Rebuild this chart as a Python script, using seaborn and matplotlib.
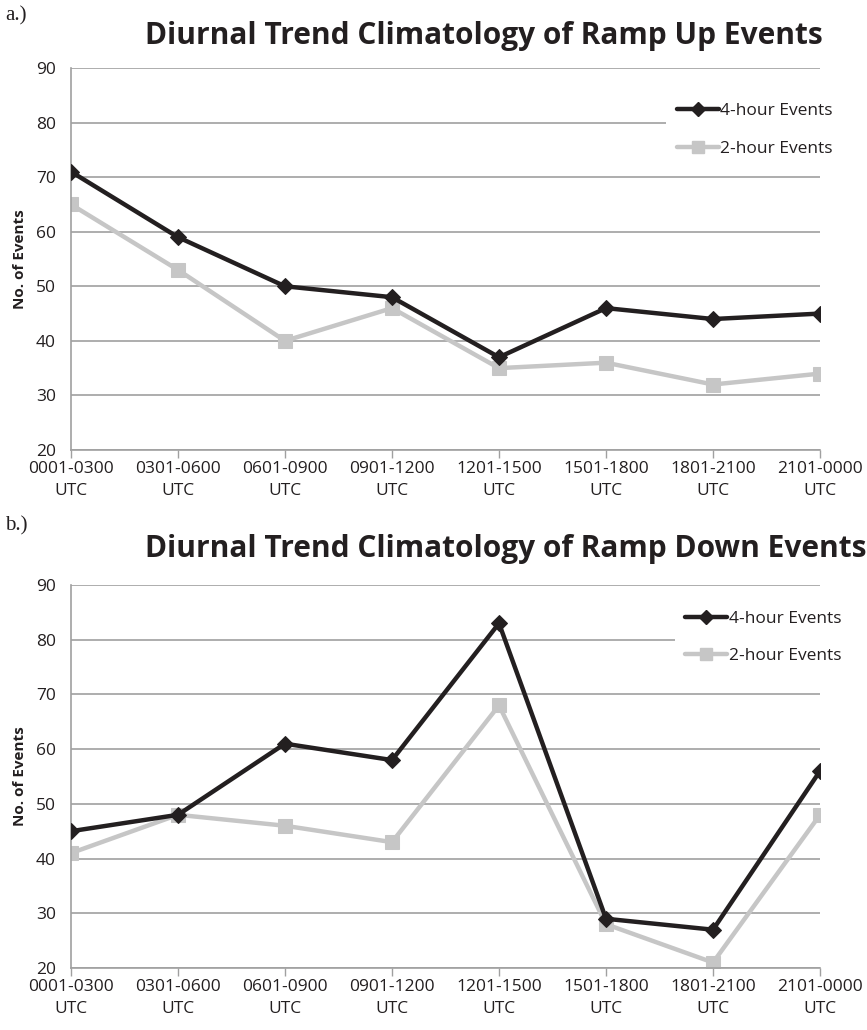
import matplotlib
matplotlib.use("Agg")
import matplotlib.pyplot as plt
import seaborn as sns
import pandas as pd
from matplotlib.lines import Line2D

sns.set_theme(style="white")
plt.rcParams['font.family'] = ['Open Sans', 'DejaVu Sans']

periods = ["0001-0300\nUTC", "0301-0600\nUTC", "0601-0900\nUTC", "0901-1200\nUTC",
           "1201-1500\nUTC", "1501-1800\nUTC", "1801-2100\nUTC", "2101-0000\nUTC"]

up_4hr = [71, 59, 50, 48, 37, 46, 44, 45]
up_2hr = [65, 53, 40, 46, 35, 36, 32, 34]
down_4hr = [45, 48, 61, 58, 83, 29, 27, 56]
down_2hr = [41, 48, 46, 43, 68, 28, 21, 48]

series_names = ["4-hour Events", "2-hour Events"]
colors = {"4-hour Events": "#231f20", "2-hour Events": "#c6c6c6"}
markers = {"4-hour Events": "D", "2-hour Events": "s"}
msizes = {"4-hour Events": 8, "2-hour Events": 10}
leg_msizes = {"4-hour Events": 7, "2-hour Events": 9}

fig = plt.figure(figsize=(8.67, 10.30), dpi=100)

panels = [
    dict(rect=[71/867, 1-450/1030, (820-71)/867, (450-68)/1030],
         vals=[up_4hr, up_2hr], title="Diurnal Trend Climatology of Ramp Up Events",
         tag="a.)", tag_y=1-16/1030, title_y=1-36/1030, leg=(0.795, 0.935)),
    dict(rect=[71/867, 1-968/1030, (820-71)/867, (968-585)/1030],
         vals=[down_4hr, down_2hr], title="Diurnal Trend Climatology of Ramp Down Events",
         tag="b.)", tag_y=1-526/1030, title_y=1-549/1030, leg=(0.806, 0.96)),
]

for p in panels:
    ax = fig.add_axes(p["rect"])
    frames = []
    for name, v in zip(series_names, p["vals"]):
        frames.append(pd.DataFrame({"pos": range(len(periods)), "count": v, "series": name}))
    df = pd.concat(frames, ignore_index=True)
    # draw 2-hour first so the 4-hour line sits on top
    for name in ["2-hour Events", "4-hour Events"]:
        sub = df[df["series"] == name]
        sns.lineplot(data=sub, x="pos", y="count", ax=ax, color=colors[name],
                     marker=markers[name], markersize=msizes[name],
                     markeredgecolor=colors[name], linewidth=3.2, legend=False,
                     zorder=3 if name.startswith("4") else 2)
    ax.set_xlim(0, 7)
    ax.set_ylim(20, 90)
    ax.set_yticks(range(20, 91, 10))
    ax.set_xticks(range(len(periods)))
    ax.set_xticklabels(periods, fontsize=12.5, color="#231f20", linespacing=1.5)
    ax.tick_params(axis="y", labelsize=12.5, colors="#231f20", length=0, pad=11)
    ax.tick_params(axis="x", length=6, width=1, color="#a0a0a0", direction="out",
                   bottom=True, pad=2)
    ax.grid(axis="y", color="#a0a0a0", linewidth=1.2)
    ax.grid(axis="x", visible=False)
    for s in ["top", "right"]:
        ax.spines[s].set_visible(False)
    for s in ["left", "bottom"]:
        ax.spines[s].set_color("#a0a0a0")
        ax.spines[s].set_linewidth(1.2)
    ax.set_xlabel("")
    ax.set_ylabel("No. of Events", fontsize=11, fontweight="bold", color="#231f20", labelpad=6)
    for lab in ax.get_yticklabels():
        lab.set_color("#231f20")

    handles = [Line2D([], [], color=colors[n], marker=markers[n], markersize=leg_msizes[n],
                      linewidth=3.2) for n in series_names]
    leg = ax.legend(handles, series_names, loc="upper left", bbox_to_anchor=p["leg"],
                    frameon=True, facecolor="white", edgecolor="none", framealpha=1,
                    fancybox=False, fontsize=12.5, handlelength=2.4, handletextpad=0.1,
                    labelspacing=1.22, borderaxespad=0, borderpad=0.6)
    for t in leg.get_texts():
        t.set_color("#231f20")

    fig.text(145/867, p["title_y"], p["title"], fontsize=21.5, fontweight="bold",
             color="#231f20", ha="left", va="center")
    fig.text(5/867, p["tag_y"], p["tag"], fontsize=15, family="Liberation Serif",
             color="#231f20", ha="left", va="center")

fig.savefig("out.png", dpi=100)
